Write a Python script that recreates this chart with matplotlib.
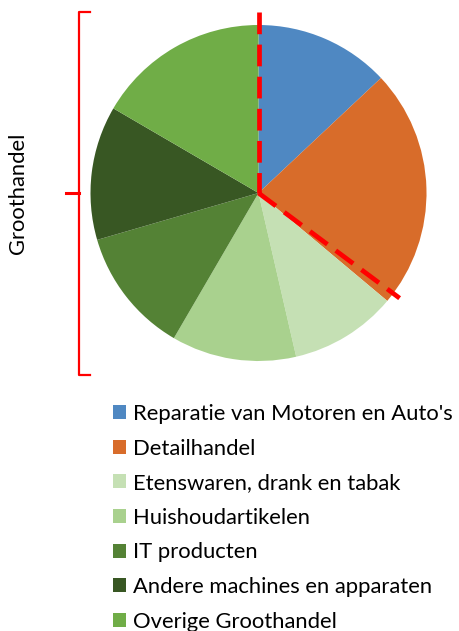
import numpy as np
import matplotlib
matplotlib.use("Agg")
from matplotlib import pyplot as plt

# data (shares, in percent)
categorieen = ["Reparatie van Motoren en Auto's", "Detailhandel",
               "Etenswaren, drank en tabak", "Huishoudartikelen",
               "IT producten", "Andere machines en apparaten",
               "Overige Groothandel"]
aandelen = [13.0, 23.1, 10.3, 12.0, 12.1, 12.9, 16.6]
kleuren = ["#4f88c2", "#d86c2a", "#c5e0b4", "#a9d18e",
           "#548235", "#385723", "#70ad47"]

W, H = 459, 631
plt.rcParams['font.family'] = ['Lato', 'DejaVu Sans']

fig = plt.figure(figsize=(W / 100, H / 100), dpi=100)
ax = fig.add_axes([0, 0, 1, 1])

cx, cy, r = 258.5, H - 193, 168  # pie centre in pixel coords (y up)
wedges, _ = ax.pie(aandelen, colors=kleuren, startangle=90, counterclock=False,
                   center=(cx, cy), radius=r, wedgeprops=dict(linewidth=0))

ax.set_xlim(0, W)
ax.set_ylim(0, H)
ax.set_aspect('auto')
ax.axis('off')

# rode stippellijnen: verticaal naar boven en schuin naar rechtsonder
rood = "#ff0000"
stijl = dict(color=rood, lw=3.4, linestyle=(0, (4.6, 2.2)), solid_capstyle='butt',
             dash_capstyle='butt', zorder=5)
ax.plot([cx, cx], [H - 12, cy], **stijl)
hoek = np.deg2rad(126.7)  # clockwise from top
lengte = 176
ax.plot([cx, cx + lengte * np.sin(hoek)], [cy, cy + lengte * np.cos(hoek)], **stijl)

# accolade links
bx = 79
ax.plot([90, bx, bx, 90], [H - 12, H - 12, H - 375, H - 375], color=rood, lw=1.6)
ax.plot([66, bx], [cy, cy], color=rood, lw=2.2)

ax.text(18, cy, "Groothandel", rotation=90, ha='center', va='center',
        fontsize=15.8, color='black')

ax.legend(wedges, categorieen, loc='upper left',
          bbox_to_anchor=(113 / W, 1 - 404 / H), bbox_transform=fig.transFigure,
          frameon=False, fontsize=15.8, borderpad=0, borderaxespad=0,
          handlelength=0.61, handleheight=0.61, handletextpad=0.3,
          labelspacing=0.665)

plt.savefig("out.png", dpi=100)
